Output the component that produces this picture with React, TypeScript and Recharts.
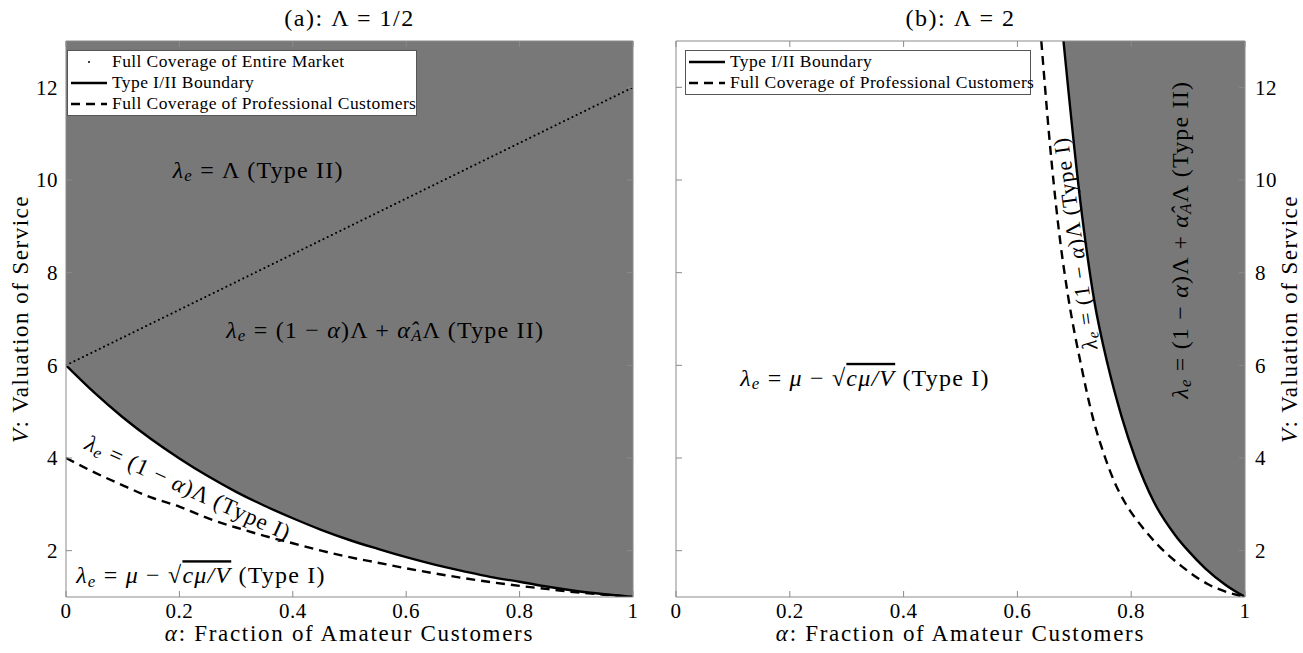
import React from "react";
import {
  ComposedChart,
  Line,
  Area,
  XAxis,
  YAxis,
  ReferenceDot,
  Legend,
} from "recharts";

// ---- panel (a): Λ = 1/2 ----
const alphaA = [
  0, 0.05, 0.1, 0.15, 0.2, 0.25, 0.3, 0.35, 0.4, 0.45, 0.5, 0.55, 0.6, 0.65,
  0.7, 0.75, 0.8, 0.85, 0.9, 0.95, 1,
];
const boundaryA = [
  6.0, 5.41, 4.88, 4.41, 3.99, 3.61, 3.27, 2.97, 2.7, 2.45, 2.23, 2.04, 1.86,
  1.7, 1.56, 1.43, 1.33, 1.22, 1.13, 1.06, 1.0,
];
const professionalA = [
  4.0, 3.69, 3.41, 3.15, 2.95, 2.7, 2.5, 2.32, 2.16, 2.0, 1.86, 1.74, 1.62,
  1.51, 1.41, 1.32, 1.24, 1.17, 1.1, 1.05, 1.0,
];
const marketAlphaA = [0, 1];
const marketA = [6, 12];

// ---- panel (b): Λ = 2 ----
const boundaryAlphaB = [
  0.681, 0.71, 0.735, 0.759, 0.783, 0.807, 0.84, 0.877, 0.9, 0.93, 0.966, 1,
];
const boundaryB = [13, 9.6, 7.4, 6.0, 4.9, 4.0, 3.05, 2.34, 2.0, 1.62, 1.26, 1];
const professionalAlphaB = [
  0.642, 0.66, 0.675, 0.689, 0.712, 0.733, 0.753, 0.77, 0.789, 0.82, 0.847,
  0.89, 0.936, 0.97, 1,
];
const professionalB = [
  13, 10.4, 8.7, 7.5, 6.0, 4.85, 4.05, 3.5, 3.04, 2.5, 2.12, 1.65, 1.27, 1.1, 1,
];

const xTicks = [0, 0.2, 0.4, 0.6, 0.8, 1];
const yTicks = [2, 4, 6, 8, 10, 12];
const V_MIN = 1;
const V_MAX = 13;

const FONT = '"Liberation Serif", "DejaVu Serif", serif';
const SHADE = "#787878";
const AXIS = "#8a8a8a";
const FS = 24;
const LS = 1.2;

type Row = { a: number; [k: string]: any };

// merge several (x, y) series into one table keyed by alpha
function buildRows(series: { key: string; xs: number[]; ys: number[] }[]) {
  const map = new Map<number, Row>();
  series.forEach(({ key, xs, ys }) =>
    xs.forEach((x, i) => {
      const row = map.get(x) ?? { a: x };
      row[key] = ys[i];
      if (key === "boundary") row.shade = [ys[i], V_MAX];
      map.set(x, row);
    })
  );
  return [...map.values()].sort((p, q) => p.a - q.a);
}

const rowsA = buildRows([
  { key: "boundary", xs: alphaA, ys: boundaryA },
  { key: "professional", xs: alphaA, ys: professionalA },
  { key: "market", xs: marketAlphaA, ys: marketA },
]);
const rowsB = buildRows([
  { key: "boundary", xs: boundaryAlphaB, ys: boundaryB },
  { key: "professional", xs: professionalAlphaB, ys: professionalB },
]);

// math-ish text: r = roman, i = italic, s = italic subscript, o = overlined
type Part = [string, "r" | "i" | "s" | "o"];
const renderParts = (parts: Part[], fs: number) => {
  let shift = 0;
  return parts.map(([t, k], i) => {
    const target = k === "s" ? fs * 0.22 : 0;
    const dy = target - shift;
    shift = target;
    return (
      <tspan
        key={i}
        dy={dy}
        fontStyle={k === "r" ? "normal" : "italic"}
        fontSize={k === "s" ? fs * 0.7 : fs}
        textDecoration={k === "o" ? "overline" : undefined}
      >
        {t}
      </tspan>
    );
  });
};

const TYPE_II: Part[] = [["λ", "i"], ["e", "s"], [" = Λ (Type II)", "r"]];
const MIX_II: Part[] = [
  ["λ", "i"], ["e", "s"], [" = (1 − ", "r"], ["α", "i"], [")Λ + ", "r"],
  ["α̂", "i"], ["A", "s"], ["Λ (Type II)", "r"],
];
const LIN_I: Part[] = [
  ["λ", "i"], ["e", "s"], [" = (1 − ", "r"], ["α", "i"], [")Λ (Type I)", "r"],
];
const SQRT_I: Part[] = [
  ["λ", "i"], ["e", "s"], [" = ", "r"], ["μ", "i"], [" − √", "r"],
  ["cμ/V", "o"], [" (Type I)", "r"],
];

const annotation = (parts: Part[], angle = 0, fs = FS, ls = LS) => (p: any) => (
  <text
    x={p.cx}
    y={p.cy}
    textAnchor="middle"
    dominantBaseline="central"
    fontFamily={FONT}
    fontSize={fs}
    letterSpacing={ls}
    fill="#000"
    transform={angle ? `rotate(${angle} ${p.cx} ${p.cy})` : undefined}
  >
    {renderParts(parts, fs)}
  </text>
);

const legendItems = {
  market: { label: "Full Coverage of Entire Market", kind: "dot" },
  boundary: { label: "Type I/II Boundary", kind: "solid" },
  professional: { label: "Full Coverage of Professional Customers", kind: "dash" },
};

const LegendBox = ({
  keys,
  width,
}: {
  keys: (keyof typeof legendItems)[];
  width: number;
}) => (
  <div
    style={{
      background: "#fff",
      border: "1px solid #555",
      width,
      boxSizing: "border-box",
      padding: "0 0 1px 2px",
      fontFamily: FONT,
      fontSize: 17.5,
      letterSpacing: 0.4,
      lineHeight: "21px",
      color: "#000",
    }}
  >
    {keys.map((k) => {
      const it = legendItems[k];
      return (
        <div key={k} style={{ display: "flex", alignItems: "center" }}>
          <svg width={38} height={10} style={{ flex: "none" }}>
            {it.kind === "dot" ? (
              <circle cx={19} cy={5} r={1} fill="#000" />
            ) : (
              <line
                x1={1}
                x2={37}
                y1={5}
                y2={5}
                stroke="#000"
                strokeWidth={2.4}
                strokeDasharray={it.kind === "dash" ? "9 6" : undefined}
              />
            )}
          </svg>
          <span style={{ marginLeft: 4, whiteSpace: "nowrap" }}>{it.label}</span>
        </div>
      );
    })}
  </div>
);

const tickStyle = { fill: "#000", fontSize: 21, fontFamily: FONT, letterSpacing: 0.5 };
const noTick = () => <g />;

const xLabel = (p: any) => {
  const vb = p.viewBox;
  return (
    <text
      x={vb.x + vb.width / 2}
      y={vb.y + 36}
      textAnchor="middle"
      dominantBaseline="central"
      fontFamily={FONT}
      fontSize={23}
      letterSpacing={1.7}
      fill="#000"
    >
      <tspan fontStyle="italic">α</tspan>
      <tspan>: Fraction of Amateur Customers</tspan>
    </text>
  );
};

const yLabel = (dx: number) => (p: any) => {
  const vb = p.viewBox;
  const cx = vb.x + dx;
  const cy = vb.y + vb.height / 2;
  return (
    <text
      x={cx}
      y={cy}
      textAnchor="middle"
      dominantBaseline="central"
      fontFamily={FONT}
      fontSize={23}
      letterSpacing={1.5}
      fill="#000"
      transform={`rotate(-90 ${cx} ${cy})`}
    >
      <tspan fontStyle="italic">V</tspan>
      <tspan>: Valuation of Service</tspan>
    </text>
  );
};

type Note = {
  a: number;
  v: number;
  parts: Part[];
  angle?: number;
  fs?: number;
  ls?: number;
};

type PanelProps = {
  rows: Row[];
  title: string;
  side: "left" | "right";
  legendKeys: (keyof typeof legendItems)[];
  legendPos: { top: number; left: number; width: number };
  notes: Note[];
  showMarket?: boolean;
};

const Panel: React.FC<PanelProps> = ({
  rows,
  title,
  side,
  legendKeys,
  legendPos,
  notes,
  showMarket,
}) => {
  const left = side === "left";
  const width = left ? 650 : 653;
  return (
    <ComposedChart
      width={width}
      height={653}
      data={rows}
      margin={{ top: 40, right: left ? 16 : 0, bottom: 0, left: 0 }}
    >
      <XAxis
        xAxisId="b"
        dataKey="a"
        type="number"
        domain={[0, 1]}
        ticks={xTicks}
        height={56}
        stroke={AXIS}
        tickSize={-6}
        tickMargin={12}
        tick={tickStyle}
        allowDataOverflow
        label={{ content: xLabel }}
      />
      <XAxis
        xAxisId="t"
        orientation="top"
        dataKey="a"
        type="number"
        domain={[0, 1]}
        ticks={xTicks}
        height={1}
        stroke={AXIS}
        tickSize={-6}
        tick={noTick}
        allowDataOverflow
        label={{
          value: title,
          position: "top",
          offset: 14.5,
          fontSize: 24,
          letterSpacing: 1.5,
          fontFamily: FONT,
          fill: "#000",
        }}
      />
      <YAxis
        yAxisId="l"
        type="number"
        domain={[V_MIN, V_MAX]}
        ticks={yTicks}
        width={left ? 66 : 26}
        stroke={AXIS}
        tickSize={-6}
        tickMargin={14}
        tick={left ? tickStyle : noTick}
        allowDataOverflow
        label={left ? { content: yLabel(20) } : undefined}
      />
      <YAxis
        yAxisId="r"
        orientation="right"
        type="number"
        domain={[V_MIN, V_MAX]}
        ticks={yTicks}
        width={left ? 1 : 58}
        stroke={AXIS}
        tickSize={-6}
        tickMargin={16}
        tick={left ? noTick : tickStyle}
        allowDataOverflow
        label={left ? undefined : { content: yLabel(44) }}
      />
      <Area
        xAxisId="b"
        yAxisId="l"
        dataKey="shade"
        type="monotone"
        stroke="none"
        fill={SHADE}
        fillOpacity={1}
        connectNulls
        dot={false}
        activeDot={false}
        isAnimationActive={false}
        legendType="none"
      />
      {showMarket && (
        <Line
          xAxisId="b"
          yAxisId="l"
          dataKey="market"
          type="linear"
          stroke="#000"
          strokeWidth={2}
          strokeDasharray="0.1 4.6"
          strokeLinecap="round"
          connectNulls
          dot={false}
          activeDot={false}
          isAnimationActive={false}
        />
      )}
      <Line
        xAxisId="b"
        yAxisId="l"
        dataKey="professional"
        type="monotone"
        stroke="#000"
        strokeWidth={2.4}
        strokeDasharray="9 6"
        connectNulls
        dot={false}
        activeDot={false}
        isAnimationActive={false}
      />
      <Line
        xAxisId="b"
        yAxisId="l"
        dataKey="boundary"
        type="monotone"
        stroke="#000"
        strokeWidth={2.4}
        connectNulls
        dot={false}
        activeDot={false}
        isAnimationActive={false}
      />
      {notes.map((n, i) => (
        <ReferenceDot
          key={i}
          xAxisId="b"
          yAxisId="l"
          x={n.a}
          y={n.v}
          r={1}
          shape={annotation(n.parts, n.angle, n.fs, n.ls)}
        />
      ))}
      <Legend
        layout="horizontal"
        verticalAlign="middle"
        align="center"
        wrapperStyle={{
          top: legendPos.top,
          left: legendPos.left,
          right: "auto",
          bottom: "auto",
          width: "auto",
        }}
        content={() => <LegendBox keys={legendKeys} width={legendPos.width} />}
      />
    </ComposedChart>
  );
};

const notesA: Note[] = [
  { a: 0.339, v: 10.22, parts: TYPE_II },
  { a: 0.563, v: 6.77, parts: MIX_II },
  { a: 0.216, v: 3.36, parts: LIN_I, angle: 24.5, fs: 23, ls: 1 },
  { a: 0.238, v: 1.47, parts: SQRT_I },
];
const notesB: Note[] = [
  { a: 0.332, v: 5.73, parts: SQRT_I },
  { a: 0.7005, v: 8.63, parts: LIN_I, angle: -98, fs: 22, ls: 1 },
  { a: 0.886, v: 8.71, parts: MIX_II, angle: -90 },
];

export default function App() {
  return (
    <div
      style={{
        position: "absolute",
        top: 0,
        left: 0,
        width: 1303,
        height: 653,
        display: "flex",
        background: "#fff",
        fontFamily: FONT,
      }}
    >
      <Panel
        rows={rowsA}
        title="(a): Λ = 1/2"
        side="left"
        legendKeys={["market", "boundary", "professional"]}
        legendPos={{ top: 50, left: 67, width: 350 }}
        notes={notesA}
        showMarket
      />
      <Panel
        rows={rowsB}
        title="(b): Λ = 2"
        side="right"
        legendKeys={["boundary", "professional"]}
        legendPos={{ top: 50, left: 35, width: 346 }}
        notes={notesB}
      />
    </div>
  );
}
